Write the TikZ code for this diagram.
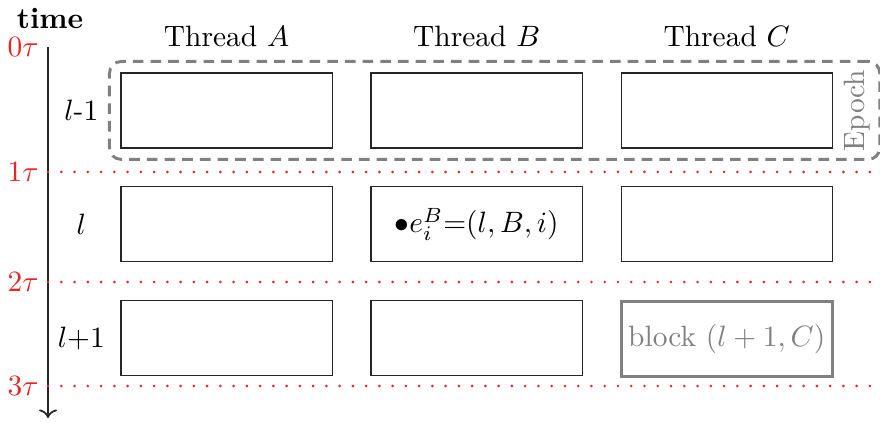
\documentclass[tikz,border=0pt]{standalone}
\usepackage{amsmath,amssymb}
\usepackage{tikz}
\usetikzlibrary{positioning,arrows.meta,fit,calc}
\definecolor{taured}{RGB}{235,35,35}
\definecolor{epochgray}{RGB}{128,128,128}
\tikzset{
  tbox/.style={rectangle,draw=black!85,line width=0.4pt,minimum width=2.52cm,minimum height=0.895cm,inner sep=0pt},
  blockbox/.style={tbox,draw=epochgray,line width=1pt,text=epochgray},
  epochbox/.style={rectangle,rounded corners=4pt,draw=epochgray,line width=1pt,dash pattern=on 3.6pt off 2.4pt,inner sep=0.13cm},
  tauline/.style={draw=taured,line width=1pt,line cap=round,dash pattern=on 0pt off 4.5pt},
  taxis/.style={->,draw=black!85,line width=0.6pt},
  taulbl/.style={left,text=taured,inner sep=3pt}
}

\begin{document}
\begin{tikzpicture}[node distance=0.45cm]
  \useasboundingbox (0,0) rectangle (10.5,-5.047);
  \node[tbox] (a1) at (2.703,-1.318) {};
  \node[tbox,right=of a1] (b1) {};
  \node[tbox,right=of b1] (c1) {};
  \node[tbox,below=of a1] (a2) {};
  \node[tbox,below=of b1] (b2) {$\bullet e_i^B$=$(l,B,i)$};
  \node[tbox,below=of c1] (c2) {};
  \node[tbox,below=of a2] (a3) {};
  \node[tbox,below=of b2] (b3) {};
  \node[blockbox,below=of c2] (c3) {block $(l+1,C)$};
  \node (ha) at ($(a1.north)+(0,0.43)$) {Thread $A$};
  \node (hb) at ($(b1.north)+(0,0.43)$) {Thread $B$};
  \node (hc) at ($(c1.north)+(0,0.43)$) {Thread $C$};
  \node (r1) at ($(a1.west)+(-0.466,0)$) {$l$-1};
  \node (r2) at ($(a2.west)+(-0.466,0)$) {$l$};
  \node (r3) at ($(a3.west)+(-0.466,0)$) {$l$+1};
  \coordinate (ep) at ($(c1.east)+(0.43,0)$);
  \node[epochbox,fit=(a1)(c1)(ep)] (epoch) {};
  \node[rotate=90,text=epochgray] (eplbl) at ($(c1.east)+(0.285,0)$) {Epoch};
  \coordinate (t0) at (0.573,-0.561);
  \coordinate (t1) at (0.573,-2.052);
  \coordinate (t2) at (0.573,-3.365);
  \coordinate (t3) at (0.573,-4.606);
  \coordinate (tend) at (0.573,-4.988);
  \coordinate (rim) at (10.5,0);
  \node (tlbl) at (0.597,-0.215) {\textbf{time}};
  \draw[taxis] (t0) -- (tend);
  \node[taulbl] (tau0) at (t0) {$0\tau$};
  \node[taulbl] (tau1) at (t1) {$1\tau$};
  \node[taulbl] (tau2) at (t2) {$2\tau$};
  \node[taulbl] (tau3) at (t3) {$3\tau$};
  \draw[tauline] (t1) -- (t1 -| rim);
  \draw[tauline] (t2) -- (t2 -| rim);
  \draw[tauline] (t3) -- (t3 -| rim);
\end{tikzpicture}
\end{document}
